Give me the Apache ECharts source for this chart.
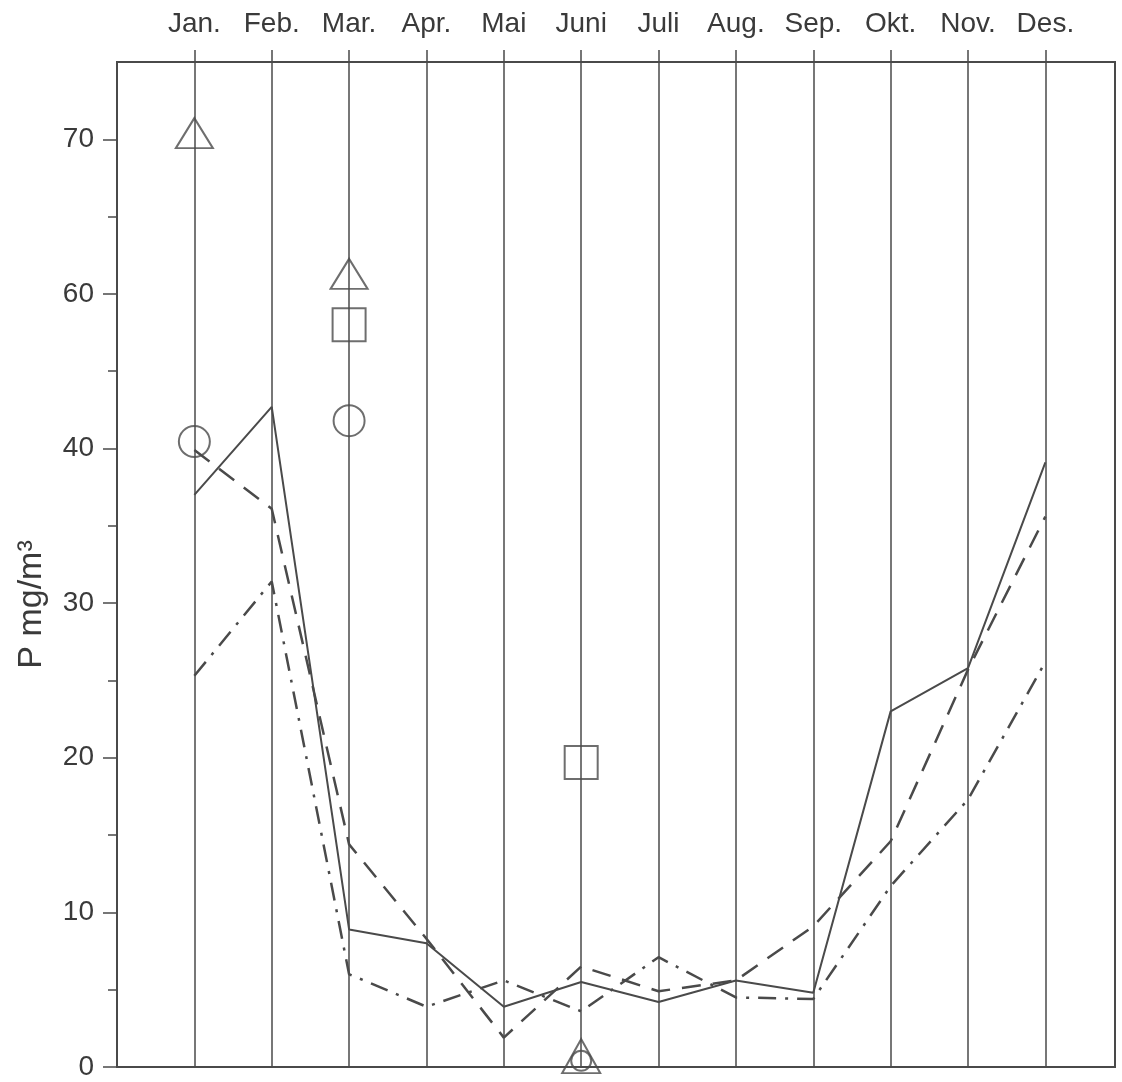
<!DOCTYPE html>
<html>
<head>
<meta charset="utf-8">
<script src="https://cdn.jsdelivr.net/npm/echarts@6/dist/echarts.min.js"></script>
<style>
html,body{margin:0;padding:0;background:#fff;}
#chart{width:1122px;height:1082px;}
</style>
</head>
<body>
<div id="chart"></div>
<script>
// Month categories (top axis)
var months = ['Jan.', 'Feb.', 'Mar.', 'Apr.', 'Mai', 'Juni', 'Juli', 'Aug.', 'Sep.', 'Okt.', 'Nov.', 'Des.'];
// Y tick labels as printed (evenly spaced on the original axis)
var yTickLabels = ['0', '10', '20', '30', '40', '60', '70'];
// Series values in axis position units (one tick step = 10)
var solidValues   = [37.0, 42.7, 8.9, 8.0, 3.9, 5.5, 4.2, 5.6, 4.8, 23.0, 25.8, 39.1];
var dashedValues  = [39.9, 36.1, 14.4, 8.3, 1.9, 6.5, 4.9, 5.6, 9.1, 14.6, 25.7, 35.6];
var dashDotValues = [25.3, 31.4, 6.0, 3.9, 5.6, 3.6, 7.1, 4.5, 4.4, 11.7, 17.3, 26.2];
// Single observations: [month index, value]
var triangleObs = [[0, 60.4], [2, 51.3], [5, 0.7]];
var squareObs   = [[2, 48.0], [5, 19.7]];
var circleObs   = [[0, 40.45], [2, 41.8], [5, 0.4]];

var INK = '#4a4a4a';
var TXT = '#3a3a3a';
var FONT = 'Liberation Sans';

function toXY(arr) { return arr.map(function (v, i) { return [i, v]; }); }

var chart = echarts.init(document.getElementById('chart'));
chart.setOption({
  animation: false,
  backgroundColor: '#ffffff',
  grid: {
    left: 117, right: 7, top: 62, bottom: 15,
    show: true, borderColor: INK, borderWidth: 2, backgroundColor: 'transparent'
  },
  xAxis: {
    type: 'value',
    position: 'top',
    min: -1,
    max: 11.9,
    interval: 1,
    axisLine: { show: true, onZero: false, lineStyle: { color: INK, width: 2 } },
    axisTick: { show: true, inside: false, length: 12, lineStyle: { color: INK, width: 1.5 } },
    axisLabel: {
      show: true, margin: 24,
      fontFamily: FONT, fontSize: 28, color: TXT,
      showMinLabel: false, showMaxLabel: false,
      formatter: function (v) { var k = Math.round(v); return (Math.abs(v - k) < 1e-6 && months[k]) ? months[k] : ''; }
    },
    splitLine: { show: true, lineStyle: { color: INK, width: 1.5 } }
  },
  yAxis: {
    type: 'value',
    min: 0,
    max: 65,
    interval: 10,
    name: 'P mg/m³',
    nameLocation: 'middle',
    nameGap: 68,
    nameRotate: 90,
    nameTextStyle: { fontFamily: FONT, fontSize: 34, color: TXT, padding: [0, 80, 0, 0] },
    axisLine: { show: true, onZero: false, lineStyle: { color: INK, width: 2 } },
    axisTick: { show: true, inside: false, length: 14, customValues: [0, 10, 20, 30, 40, 50, 60], lineStyle: { color: INK, width: 1.5 } },
    minorTick: { show: true, splitNumber: 2, length: 9, lineStyle: { color: INK, width: 1.5 } },
    axisLabel: {
      margin: 23, fontFamily: FONT, fontSize: 28, color: TXT,
      showMaxLabel: false,
      formatter: function (v) { var k = Math.round(v / 10); return (Math.abs(v - k * 10) < 1e-6 && yTickLabels[k] !== undefined) ? yTickLabels[k] : ''; }
    },
    splitLine: { show: false },
    minorSplitLine: { show: false }
  },
  series: [
    {
      type: 'line', data: toXY(solidValues), symbol: 'none',
      lineStyle: { color: INK, width: 2, type: 'solid' }, z: 3
    },
    {
      type: 'line', data: toXY(dashedValues), symbol: 'none',
      lineStyle: { color: INK, width: 2.5, type: [19, 12] }, z: 3
    },
    {
      type: 'line', data: toXY(dashDotValues), symbol: 'none',
      lineStyle: { color: INK, width: 2.5, type: [18, 9, 3, 9] }, z: 3
    },
    {
      type: 'scatter', data: triangleObs, symbol: 'triangle',
      symbolSize: function (v) { return v[1] < 2 ? [38, 34] : [37, 30]; },
      itemStyle: { color: 'transparent', borderColor: INK, borderWidth: 2 }, z: 4, clip: false
    },
    {
      type: 'scatter', data: squareObs, symbol: 'rect', symbolSize: 33,
      itemStyle: { color: 'transparent', borderColor: INK, borderWidth: 2 }, z: 4, clip: false
    },
    {
      type: 'scatter', data: circleObs, symbol: 'circle',
      symbolSize: function (v) { return v[1] < 2 ? 20 : 31; },
      itemStyle: { color: 'transparent', borderColor: INK, borderWidth: 2 }, z: 4, clip: false
    }
  ]
});
</script>
</body>
</html>
